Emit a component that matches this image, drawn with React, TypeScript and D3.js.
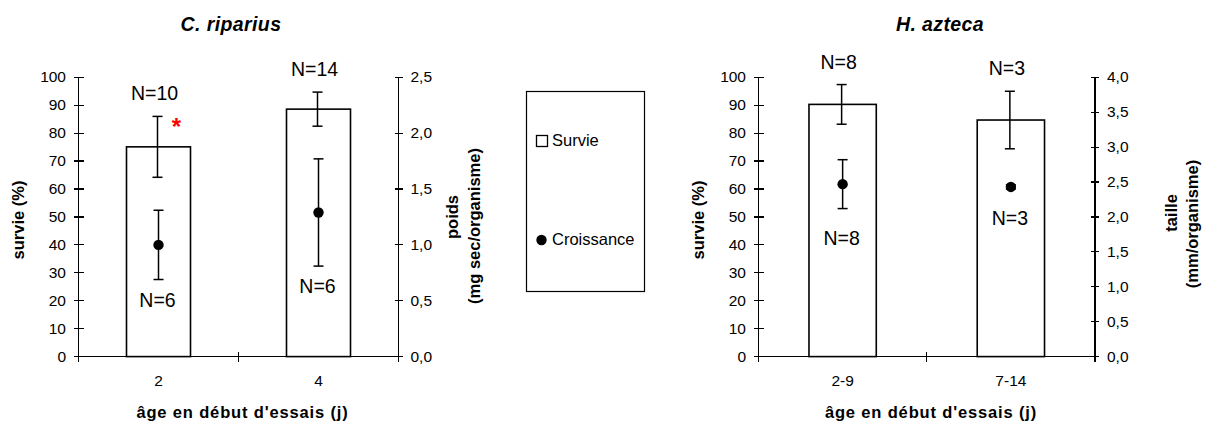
import * as d3 from 'd3';

const W = 1213;
const H = 425;
const FONT = "'Liberation Sans', Arial, Helvetica, sans-serif";
const TOP = 77.3;
const BOTTOM = 356.6;

// C. riparius
const ripCategories = ['2', '4'];
const ripSurvie = [75.1, 88.6];
const ripSurvieErr = [10.9, 6.1];
const ripPoids = [1.0, 1.29];
const ripPoidsErr = [0.31, 0.48];
const ripNSurvie = ['N=10', 'N=14'];
const ripNPoids = ['N=6', 'N=6'];
const ripRightTicks = [0, 0.5, 1.0, 1.5, 2.0, 2.5];

// H. azteca
const aztCategories = ['2-9', '7-14'];
const aztSurvie = [90.3, 84.7];
const aztSurvieErr = [7.1, 10.3];
const aztTaille = [2.47, 2.43];
const aztTailleErr = [0.35, 0.03];
const aztNSurvie = ['N=8', 'N=3'];
const aztNTaille = ['N=8', 'N=3'];
const aztRightTicks = [0, 0.5, 1.0, 1.5, 2.0, 2.5, 3.0, 3.5, 4.0];

const leftTicks = [0, 10, 20, 30, 40, 50, 60, 70, 80, 90, 100];

const legendLabels = ['Survie', 'Croissance'];

type PanelProps = {
  title: string;
  titleX: number;
  x0: number;
  x1: number;
  categories: string[];
  survie: number[];
  survieErr: number[];
  growth: number[];
  growthErr: number[];
  nSurvie: string[];
  nGrowth: string[];
  nGrowthGap: number;
  rightTicks: number[];
  rightTitle: string[];
  rightTitleX: number[];
  rightTitleY: number[];
  leftTitleX: number;
  xTitleX: number;
  star?: number;
};

const fmt = (v: number) => d3.format('.1f')(v).replace('.', ',');

function Panel(p: PanelProps) {
  const x = d3.scaleBand<string>().domain(p.categories).range([p.x0, p.x1]).paddingInner(0.6).paddingOuter(0.3);
  const y = d3.scaleLinear().domain([0, 100]).range([BOTTOM, TOP]);
  const y2 = d3
    .scaleLinear()
    .domain([0, p.rightTicks[p.rightTicks.length - 1]])
    .range([BOTTOM, TOP]);
  const cx = (c: string) => (x(c) as number) + x.bandwidth() / 2;
  const step = (p.x1 - p.x0) / p.categories.length;
  const cap = 5;

  return (
    <g fontFamily={FONT} fill="#000">
      <text x={p.titleX} y={31} textAnchor="middle" fontSize={19.5} fontWeight="bold" fontStyle="italic" letterSpacing={0.4}>
        {p.title}
      </text>

      {/* bars */}
      {p.categories.map((c, i) => (
        <rect
          key={c}
          x={x(c)}
          y={y(p.survie[i])}
          width={x.bandwidth()}
          height={BOTTOM - y(p.survie[i])}
          fill="#fff"
          stroke="#000"
          strokeWidth={1.6}
        />
      ))}

      {/* axes */}
      <g stroke="#000" strokeWidth={1.2} shapeRendering="crispEdges">
        <line x1={p.x0} x2={p.x0} y1={TOP} y2={BOTTOM} />
        <line x1={p.x1} x2={p.x1} y1={TOP} y2={BOTTOM} />
        <line x1={p.x0} x2={p.x1} y1={BOTTOM} y2={BOTTOM} />
        {leftTicks.map((t) => (
          <line key={t} x1={p.x0 - 5} x2={p.x0 + 5} y1={y(t)} y2={y(t)} />
        ))}
        {p.rightTicks.map((t) => (
          <line key={t} x1={p.x1 - 4} x2={p.x1 + 4} y1={y2(t)} y2={y2(t)} />
        ))}
        {d3.range(p.categories.length + 1).map((k) => (
          <line key={k} x1={p.x0 + k * step} x2={p.x0 + k * step} y1={BOTTOM - 5} y2={BOTTOM + 5} />
        ))}
      </g>

      {leftTicks.map((t) => (
        <text key={t} x={p.x0 - 12.5} y={y(t) + 5} textAnchor="end" fontSize={15.5}>
          {t}
        </text>
      ))}
      {p.rightTicks.map((t) => (
        <text key={t} x={p.x1 + 12} y={y2(t) + 5} fontSize={15.5}>
          {fmt(t)}
        </text>
      ))}
      {p.categories.map((c) => (
        <text key={c} x={cx(c)} y={385.5} textAnchor="middle" fontSize={15.5}>
          {c}
        </text>
      ))}

      {/* error bars */}
      <g stroke="#000" strokeWidth={1.5}>
        {p.categories.map((c, i) => {
          const hi = y(p.survie[i] + p.survieErr[i]);
          const lo = y(p.survie[i] - p.survieErr[i]);
          const xc = cx(c) - 1;
          return (
            <g key={c}>
              <line x1={xc} x2={xc} y1={hi} y2={lo} />
              <line x1={xc - cap} x2={xc + cap} y1={hi} y2={hi} />
              <line x1={xc - cap} x2={xc + cap} y1={lo} y2={lo} />
            </g>
          );
        })}
        {p.categories.map((c, i) => {
          const hi = y2(p.growth[i] + p.growthErr[i]);
          const lo = y2(p.growth[i] - p.growthErr[i]);
          const xc = cx(c);
          return (
            <g key={c}>
              <line x1={xc} x2={xc} y1={hi} y2={lo} />
              <line x1={xc - cap} x2={xc + cap} y1={hi} y2={hi} />
              <line x1={xc - cap} x2={xc + cap} y1={lo} y2={lo} />
            </g>
          );
        })}
      </g>
      {p.categories.map((c, i) => (
        <circle key={c} cx={cx(c)} cy={y2(p.growth[i])} r={5.2} fill="#000" />
      ))}

      {/* N labels */}
      {p.categories.map((c, i) => (
        <text key={c} x={cx(c) - 4} y={y(p.survie[i] + p.survieErr[i]) - 16} textAnchor="middle" fontSize={19.5}>
          {p.nSurvie[i]}
        </text>
      ))}
      {p.categories.map((c, i) => (
        <text
          key={c}
          x={cx(c) - 1}
          y={y2(p.growth[i] - p.growthErr[i]) + p.nGrowthGap}
          textAnchor="middle"
          fontSize={19.5}
        >
          {p.nGrowth[i]}
        </text>
      ))}

      {p.star !== undefined && (
        <text
          x={cx(p.categories[p.star]) + 18}
          y={y(p.survie[p.star] + p.survieErr[p.star]) + 19}
          textAnchor="middle"
          fontSize={24}
          fontWeight="bold"
          fill="#ff0000"
        >
          *
        </text>
      )}

      {/* axis titles */}
      <text
        transform={`translate(${p.leftTitleX},220) rotate(-90)`}
        textAnchor="middle"
        fontSize={16.5}
        fontWeight="bold"
      >
        survie (%)
      </text>
      {p.rightTitle.map((t, i) => (
        <text
          key={t}
          transform={`translate(${p.rightTitleX[i]},${p.rightTitleY[i]}) rotate(-90)`}
          textAnchor="middle"
          fontSize={16.5}
          fontWeight="bold"
        >
          {t}
        </text>
      ))}
      <text x={p.xTitleX} y={418} textAnchor="middle" fontSize={16.5} fontWeight="bold" letterSpacing={0.85}>
        âge en début d'essais (j)
      </text>
    </g>
  );
}

function Legend() {
  return (
    <g fontFamily={FONT}>
      <rect x={526.5} y={91.5} width={118} height={200} fill="#fff" stroke="#000" strokeWidth={1.2} />
      <rect x={536.5} y={135.5} width={11} height={11} fill="#fff" stroke="#000" strokeWidth={1.3} />
      <text x={552} y={146} fontSize={16.5}>
        {legendLabels[0]}
      </text>
      <circle cx={541.5} cy={240} r={5.2} fill="#000" />
      <text x={552} y={244.5} fontSize={16.5}>
        {legendLabels[1]}
      </text>
    </g>
  );
}

export default function App() {
  return (
    <svg width={W} height={H} style={{ position: 'absolute', left: 0, top: 0, background: '#fff' }}>
      <rect width={W} height={H} fill="#fff" />
      <Panel
        title="C. riparius"
        titleX={231}
        x0={78.5}
        x1={398.5}
        categories={ripCategories}
        survie={ripSurvie}
        survieErr={ripSurvieErr}
        growth={ripPoids}
        growthErr={ripPoidsErr}
        nSurvie={ripNSurvie}
        nGrowth={ripNPoids}
        nGrowthGap={27}
        rightTicks={ripRightTicks}
        rightTitle={['poids', '(mg sec/organisme)']}
        rightTitleX={[458, 480]}
        rightTitleY={[217, 226]}
        leftTitleX={23.5}
        xTitleX={242.5}
        star={0}
      />
      <Legend />
      <Panel
        title="H. azteca"
        titleX={940}
        x0={758.5}
        x1={1095}
        categories={aztCategories}
        survie={aztSurvie}
        survieErr={aztSurvieErr}
        growth={aztTaille}
        growthErr={aztTailleErr}
        nSurvie={aztNSurvie}
        nGrowth={aztNTaille}
        nGrowthGap={36}
        rightTicks={aztRightTicks}
        rightTitle={['taille', '(mm/organisme)']}
        rightTitleX={[1176.5, 1197.5]}
        rightTitleY={[213, 224]}
        leftTitleX={703.5}
        xTitleX={931}
      />
    </svg>
  );
}
